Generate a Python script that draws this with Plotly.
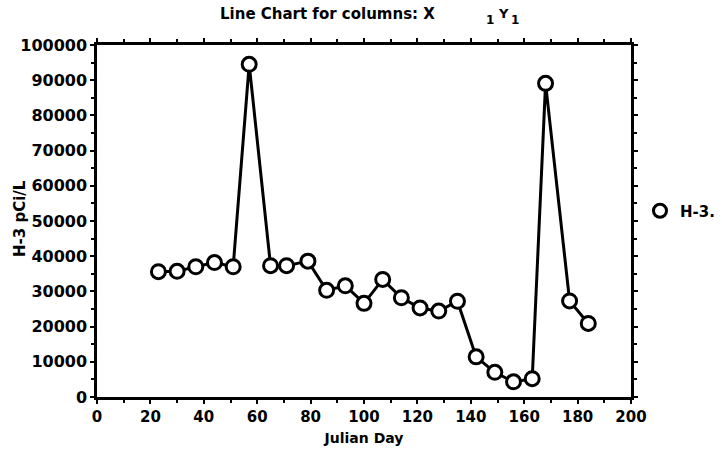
import plotly.graph_objects as go

julian_day = [23, 30, 37, 44, 51, 57, 65, 71, 79, 86, 93, 100, 107, 114, 121, 128, 135, 142, 149, 156, 163, 168, 177, 184]
h3_pci_l = [35600, 35700, 37000, 38200, 37000, 94500, 37300, 37300, 38600, 30300, 31600, 26600,
            33400, 28200, 25300, 24400, 27200, 11400, 7000, 4300, 5200, 89100, 27300, 20900]
x_ticks = [0, 20, 40, 60, 80, 100, 120, 140, 160, 180, 200]
y_ticks = [0, 10000, 20000, 30000, 40000, 50000, 60000, 70000, 80000, 90000, 100000]

FONT = "DejaVu Sans, Arial, sans-serif"

fig = go.Figure()
fig.add_trace(go.Scatter(
    x=julian_day, y=h3_pci_l, mode="lines+markers", name="H-3.", showlegend=False,
    line=dict(color="black", width=3),
    marker=dict(symbol="circle", size=14, color="white", line=dict(color="black", width=3)),
    cliponaxis=False,
))
# legend entry: marker only
fig.add_trace(go.Scatter(
    x=[None], y=[None], mode="markers", name="H-3.", showlegend=True,
    marker=dict(symbol="circle", size=13, color="white", line=dict(color="black", width=3)),
))

axis_common = dict(
    showline=True, linecolor="black", linewidth=2.5, mirror="ticks",
    ticks="outside", ticklen=4, tickwidth=2, tickcolor="black",
    showgrid=False, zeroline=False,
)

fig.update_xaxes(
    range=[0, 200], tickvals=x_ticks, ticktext=[str(v) for v in x_ticks],
    tickfont=dict(family=FONT, size=15, color="black", weight="bold"),
    minor=dict(dtick=10, ticks="outside", ticklen=3, tickwidth=2, tickcolor="black"),
    title=dict(text="<b>Julian Day</b>", font=dict(family=FONT, size=14, color="black"), standoff=9),
    **axis_common,
)
fig.update_yaxes(
    range=[0, 100000], tickvals=y_ticks, ticktext=[str(v) for v in y_ticks],
    tickfont=dict(family=FONT, size=16, color="black", weight="bold"),
    minor=dict(dtick=5000, ticks="outside", ticklen=3, tickwidth=2, tickcolor="black"),
    **axis_common,
)

W, H = 722, 458
ML, MR, MT, MB = 97, 91, 45, 61
pw = W - ML - MR
ph = H - MT - MB

def px_to_paper(px, py):
    return (px - ML) / pw, (H - MB - py) / ph

def ann(text, px, py, size, angle=0):
    x, y = px_to_paper(px, py)
    return dict(text=text, x=x, y=y, xref="paper", yref="paper", showarrow=False,
                xanchor="center", yanchor="middle", textangle=angle,
                font=dict(family=FONT, size=size, color="black"))

lx, ly = px_to_paper(640, 211)

fig.update_layout(
    width=W, height=H,
    margin=dict(l=ML, r=MR, t=MT, b=MB, autoexpand=False),
    paper_bgcolor="white", plot_bgcolor="white",
    showlegend=True,
    legend=dict(x=lx, y=ly, xanchor="left", yanchor="middle",
                font=dict(family=FONT, size=15, color="black", weight="bold"),
                bgcolor="rgba(0,0,0,0)", itemwidth=30, borderwidth=0),
    annotations=[
        ann("<b>Line Chart for columns: X</b>", 327, 14, 15),
        ann("<b>1</b>", 490, 20, 12),
        ann("<b>Y</b>", 503, 13, 13),
        ann("<b>1</b>", 515, 20, 12),
        ann("<b>H-3 pCi/L</b>", 20, 219, 15, angle=-90),
    ],
)

fig.write_html("out.html")
